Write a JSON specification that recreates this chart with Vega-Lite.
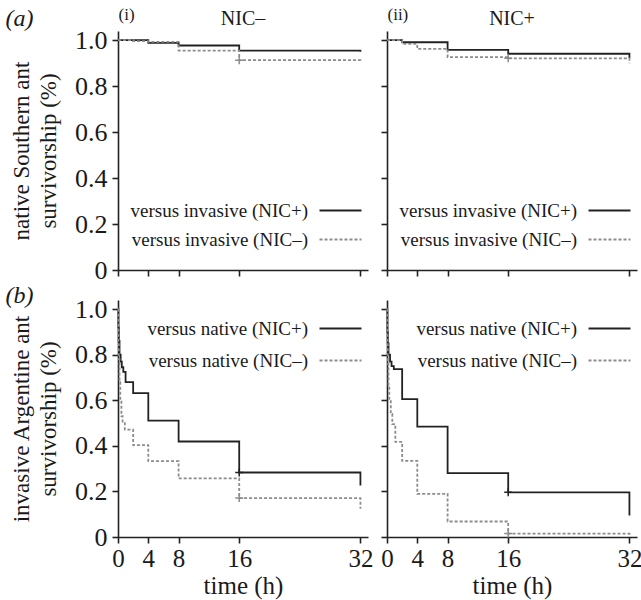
{
  "$schema": "https://vega.github.io/schema/vega-lite/v6.json",
  "padding": {"left": 5, "top": 5, "right": 0, "bottom": 2},
  "config": {
    "font": "Liberation Serif",
    "view": {"stroke": null},
    "axis": {"grid": false, "domainColor": "#222222", "domainWidth": 1.6, "tickColor": "#222222", "tickWidth": 1.6, "tickSize": 6, "labelFont": "Liberation Serif", "labelFontSize": 26, "labelColor": "#1a1a1a", "labelPadding": 5, "labelFlush": false, "labelOverlap": false, "titleFont": "Liberation Serif", "titleFontSize": 23, "titleFontWeight": "normal", "titleColor": "#1a1a1a"},
    "legend": {"labelFont": "Liberation Serif", "labelFontSize": 19, "labelColor": "#1a1a1a", "labelLimit": 0, "symbolType": "M-5.25,0L5.25,0", "symbolSize": 64, "symbolStrokeWidth": 1.8, "labelAlign": "right", "labelOffset": -42, "rowPadding": 9},
    "title": {"font": "Liberation Serif", "fontWeight": "normal", "color": "#1a1a1a"}
  },
  "datasets": {
    "curves": [
      {"panel": "a_i", "series": "versus invasive (NIC+)", "t": 0, "s": 1.0},
      {"panel": "a_i", "series": "versus invasive (NIC+)", "t": 4, "s": 0.988},
      {"panel": "a_i", "series": "versus invasive (NIC+)", "t": 8, "s": 0.977},
      {"panel": "a_i", "series": "versus invasive (NIC+)", "t": 16, "s": 0.955},
      {"panel": "a_i", "series": "versus invasive (NIC+)", "t": 32, "s": 0.95},
      {"panel": "a_i", "series": "versus invasive (NIC–)", "t": 0, "s": 1.0},
      {"panel": "a_i", "series": "versus invasive (NIC–)", "t": 2, "s": 0.996},
      {"panel": "a_i", "series": "versus invasive (NIC–)", "t": 4, "s": 0.993},
      {"panel": "a_i", "series": "versus invasive (NIC–)", "t": 8, "s": 0.955},
      {"panel": "a_i", "series": "versus invasive (NIC–)", "t": 16, "s": 0.913},
      {"panel": "a_i", "series": "versus invasive (NIC–)", "t": 32, "s": 0.905},
      {"panel": "a_ii", "series": "versus invasive (NIC+)", "t": 0, "s": 1.0},
      {"panel": "a_ii", "series": "versus invasive (NIC+)", "t": 2, "s": 0.991},
      {"panel": "a_ii", "series": "versus invasive (NIC+)", "t": 8, "s": 0.958},
      {"panel": "a_ii", "series": "versus invasive (NIC+)", "t": 16, "s": 0.941},
      {"panel": "a_ii", "series": "versus invasive (NIC+)", "t": 32, "s": 0.923},
      {"panel": "a_ii", "series": "versus invasive (NIC–)", "t": 0, "s": 1.0},
      {"panel": "a_ii", "series": "versus invasive (NIC–)", "t": 2, "s": 0.984},
      {"panel": "a_ii", "series": "versus invasive (NIC–)", "t": 4, "s": 0.962},
      {"panel": "a_ii", "series": "versus invasive (NIC–)", "t": 8, "s": 0.926},
      {"panel": "a_ii", "series": "versus invasive (NIC–)", "t": 16, "s": 0.921},
      {"panel": "a_ii", "series": "versus invasive (NIC–)", "t": 32, "s": 0.9},
      {"panel": "b_i", "series": "versus native (NIC+)", "t": 0, "s": 1.0},
      {"panel": "b_i", "series": "versus native (NIC+)", "t": 0.05, "s": 0.92},
      {"panel": "b_i", "series": "versus native (NIC+)", "t": 0.1, "s": 0.86},
      {"panel": "b_i", "series": "versus native (NIC+)", "t": 0.2, "s": 0.8},
      {"panel": "b_i", "series": "versus native (NIC+)", "t": 0.35, "s": 0.77},
      {"panel": "b_i", "series": "versus native (NIC+)", "t": 0.5, "s": 0.745},
      {"panel": "b_i", "series": "versus native (NIC+)", "t": 0.7, "s": 0.725},
      {"panel": "b_i", "series": "versus native (NIC+)", "t": 1, "s": 0.68},
      {"panel": "b_i", "series": "versus native (NIC+)", "t": 2, "s": 0.631},
      {"panel": "b_i", "series": "versus native (NIC+)", "t": 4, "s": 0.511},
      {"panel": "b_i", "series": "versus native (NIC+)", "t": 8, "s": 0.419},
      {"panel": "b_i", "series": "versus native (NIC+)", "t": 16, "s": 0.283},
      {"panel": "b_i", "series": "versus native (NIC+)", "t": 32, "s": 0.226},
      {"panel": "b_i", "series": "versus native (NIC–)", "t": 0, "s": 1.0},
      {"panel": "b_i", "series": "versus native (NIC–)", "t": 0.05, "s": 0.85},
      {"panel": "b_i", "series": "versus native (NIC–)", "t": 0.1, "s": 0.78},
      {"panel": "b_i", "series": "versus native (NIC–)", "t": 0.2, "s": 0.68},
      {"panel": "b_i", "series": "versus native (NIC–)", "t": 0.3, "s": 0.6},
      {"panel": "b_i", "series": "versus native (NIC–)", "t": 0.45, "s": 0.53},
      {"panel": "b_i", "series": "versus native (NIC–)", "t": 0.6, "s": 0.5},
      {"panel": "b_i", "series": "versus native (NIC–)", "t": 0.9, "s": 0.471},
      {"panel": "b_i", "series": "versus native (NIC–)", "t": 2, "s": 0.403},
      {"panel": "b_i", "series": "versus native (NIC–)", "t": 4, "s": 0.333},
      {"panel": "b_i", "series": "versus native (NIC–)", "t": 8, "s": 0.257},
      {"panel": "b_i", "series": "versus native (NIC–)", "t": 16, "s": 0.171},
      {"panel": "b_i", "series": "versus native (NIC–)", "t": 32, "s": 0.124},
      {"panel": "b_ii", "series": "versus native (NIC+)", "t": 0, "s": 1.0},
      {"panel": "b_ii", "series": "versus native (NIC+)", "t": 0.05, "s": 0.9},
      {"panel": "b_ii", "series": "versus native (NIC+)", "t": 0.1, "s": 0.85},
      {"panel": "b_ii", "series": "versus native (NIC+)", "t": 0.2, "s": 0.8},
      {"panel": "b_ii", "series": "versus native (NIC+)", "t": 0.4, "s": 0.77},
      {"panel": "b_ii", "series": "versus native (NIC+)", "t": 0.6, "s": 0.75},
      {"panel": "b_ii", "series": "versus native (NIC+)", "t": 0.9, "s": 0.737},
      {"panel": "b_ii", "series": "versus native (NIC+)", "t": 2, "s": 0.605},
      {"panel": "b_ii", "series": "versus native (NIC+)", "t": 4, "s": 0.484},
      {"panel": "b_ii", "series": "versus native (NIC+)", "t": 8, "s": 0.28},
      {"panel": "b_ii", "series": "versus native (NIC+)", "t": 16, "s": 0.196},
      {"panel": "b_ii", "series": "versus native (NIC+)", "t": 32, "s": 0.094},
      {"panel": "b_ii", "series": "versus native (NIC–)", "t": 0, "s": 1.0},
      {"panel": "b_ii", "series": "versus native (NIC–)", "t": 0.05, "s": 0.85},
      {"panel": "b_ii", "series": "versus native (NIC–)", "t": 0.1, "s": 0.76},
      {"panel": "b_ii", "series": "versus native (NIC–)", "t": 0.2, "s": 0.66},
      {"panel": "b_ii", "series": "versus native (NIC–)", "t": 0.3, "s": 0.6},
      {"panel": "b_ii", "series": "versus native (NIC–)", "t": 0.5, "s": 0.54},
      {"panel": "b_ii", "series": "versus native (NIC–)", "t": 0.7, "s": 0.495},
      {"panel": "b_ii", "series": "versus native (NIC–)", "t": 1.1, "s": 0.417},
      {"panel": "b_ii", "series": "versus native (NIC–)", "t": 2, "s": 0.334},
      {"panel": "b_ii", "series": "versus native (NIC–)", "t": 4, "s": 0.189},
      {"panel": "b_ii", "series": "versus native (NIC–)", "t": 8, "s": 0.068},
      {"panel": "b_ii", "series": "versus native (NIC–)", "t": 16, "s": 0.015},
      {"panel": "b_ii", "series": "versus native (NIC–)", "t": 32, "s": 0.008}
    ],
    "censor": [
      {"panel": "a_i", "series": "versus invasive (NIC–)", "t": 16, "s": 0.913},
      {"panel": "a_ii", "series": "versus invasive (NIC–)", "t": 16, "s": 0.921},
      {"panel": "b_i", "series": "versus native (NIC+)", "t": 16, "s": 0.283},
      {"panel": "b_i", "series": "versus native (NIC–)", "t": 16, "s": 0.171},
      {"panel": "b_ii", "series": "versus native (NIC+)", "t": 16, "s": 0.196},
      {"panel": "b_ii", "series": "versus native (NIC–)", "t": 16, "s": 0.015}
    ]
  },
  "spacing": 1,
  "resolve": {"scale": {"color": "independent", "strokeDash": "independent"}, "legend": {"color": "independent", "strokeDash": "independent"}},
  "vconcat": [
    {
      "title": {"text": "(a)", "anchor": "start", "font": "Liberation Serif", "fontSize": 24, "fontStyle": "italic", "offset": -26, "dx": -5},
      "spacing": 12,
      "resolve": {"scale": {"color": "independent", "strokeDash": "independent"}, "legend": {"color": "independent", "strokeDash": "independent"}},
      "hconcat": [
        {
          "width": 250, "height": 239,
          "title": {"text": "NIC–", "font": "Liberation Serif", "fontSize": 20, "anchor": "middle", "frame": "group", "offset": -24},
          "resolve": {"axis": {"x": "independent"}},
          "layer": [
            {
              "data": {"name": "curves"},
              "transform": [{"filter": "datum.panel === 'a_i'"}],
              "mark": {"type": "line", "interpolate": "step-after", "strokeWidth": 1.8},
              "encoding": {
                "x": {"field": "t", "type": "quantitative", "scale": {"domain": [0, 33], "nice": false, "zero": false}, "axis": {"values": [0, 4, 8, 16, 32], "labels": false, "title": null}},
                "y": {"field": "s", "type": "quantitative", "scale": {"domain": [0, 1.04], "nice": false}, "axis": {"values": [0, 0.2, 0.4, 0.6, 0.8, 1.0], "labelExpr": "datum.value === 0 ? '0' : format(datum.value, '.1f')", "labelFont": "Liberation Serif", "titleFont": "Liberation Serif", "titleFontWeight": "normal", "title": ["native Southern ant", "survivorship (%)"], "titleLineHeight": 27, "titlePadding": 14}},
                "color": {"field": "series", "type": "nominal", "scale": {"domain": ["versus invasive (NIC+)", "versus invasive (NIC–)"], "range": ["#222222", "#8c8c8c"]}, "legend": {"title": null, "orient": "none", "legendX": 213, "legendY": 170}},
                "strokeDash": {"field": "series", "type": "nominal", "scale": {"domain": ["versus invasive (NIC+)", "versus invasive (NIC–)"], "range": [[1, 0], [3, 2]]}, "legend": {"title": null, "orient": "none", "legendX": 213, "legendY": 170}}
              }
            },
            {
              "data": {"name": "censor"},
              "transform": [{"filter": "datum.panel === 'a_i'"}],
              "mark": {"type": "point", "shape": "M-1,0L1,0M0,-1L0,1", "filled": false, "size": 64, "strokeWidth": 1.5, "opacity": 1},
              "encoding": {
                "x": {"field": "t", "type": "quantitative", "axis": {"orient": "top", "title": "(i)", "titleFont": "Liberation Serif", "titleFontWeight": "normal", "titleAnchor": "start", "titleFontSize": 17, "titlePadding": 8, "domain": false, "ticks": false, "labels": false}},
                "y": {"field": "s", "type": "quantitative"},
                "color": {"field": "series", "type": "nominal", "legend": null}
              }
            }
          ]
        },
        {
          "width": 250, "height": 239,
          "title": {"text": "NIC+", "font": "Liberation Serif", "fontSize": 20, "anchor": "middle", "frame": "group", "offset": -24},
          "resolve": {"axis": {"x": "independent"}},
          "layer": [
            {
              "data": {"name": "curves"},
              "transform": [{"filter": "datum.panel === 'a_ii'"}],
              "mark": {"type": "line", "interpolate": "step-after", "strokeWidth": 1.8},
              "encoding": {
                "x": {"field": "t", "type": "quantitative", "scale": {"domain": [0, 33], "nice": false, "zero": false}, "axis": {"values": [0, 4, 8, 16, 32], "labels": false, "title": null}},
                "y": {"field": "s", "type": "quantitative", "scale": {"domain": [0, 1.04], "nice": false}, "axis": {"values": [0, 0.2, 0.4, 0.6, 0.8, 1.0], "labels": false, "title": null}},
                "color": {"field": "series", "type": "nominal", "scale": {"domain": ["versus invasive (NIC+)", "versus invasive (NIC–)"], "range": ["#222222", "#8c8c8c"]}, "legend": {"title": null, "orient": "none", "legendX": 213, "legendY": 170}},
                "strokeDash": {"field": "series", "type": "nominal", "scale": {"domain": ["versus invasive (NIC+)", "versus invasive (NIC–)"], "range": [[1, 0], [3, 2]]}, "legend": {"title": null, "orient": "none", "legendX": 213, "legendY": 170}}
              }
            },
            {
              "data": {"name": "censor"},
              "transform": [{"filter": "datum.panel === 'a_ii'"}],
              "mark": {"type": "point", "shape": "M-1,0L1,0M0,-1L0,1", "filled": false, "size": 64, "strokeWidth": 1.5, "opacity": 1},
              "encoding": {
                "x": {"field": "t", "type": "quantitative", "axis": {"orient": "top", "title": "(ii)", "titleFont": "Liberation Serif", "titleFontWeight": "normal", "titleAnchor": "start", "titleFontSize": 17, "titlePadding": 8, "domain": false, "ticks": false, "labels": false}},
                "y": {"field": "s", "type": "quantitative"},
                "color": {"field": "series", "type": "nominal", "legend": null}
              }
            }
          ]
        }
      ]
    },
    {
      "title": {"text": "(b)", "anchor": "start", "font": "Liberation Serif", "fontSize": 24, "fontStyle": "italic", "offset": -12, "dx": -5},
      "spacing": 7,
      "resolve": {"scale": {"color": "independent", "strokeDash": "independent"}, "legend": {"color": "independent", "strokeDash": "independent"}},
      "hconcat": [
        {
          "width": 250, "height": 237,
          "layer": [
            {
              "data": {"name": "curves"},
              "transform": [{"filter": "datum.panel === 'b_i'"}],
              "mark": {"type": "line", "interpolate": "step-after", "strokeWidth": 1.8},
              "encoding": {
                "x": {"field": "t", "type": "quantitative", "scale": {"domain": [0, 33], "nice": false, "zero": false}, "axis": {"values": [0, 4, 8, 16, 32], "labelFont": "Liberation Serif", "titleFont": "Liberation Serif", "titleFontWeight": "normal", "labelFontSize": 25, "labelPadding": 3, "title": "time (h)", "titleFontSize": 25, "titlePadding": 2}},
                "y": {"field": "s", "type": "quantitative", "scale": {"domain": [0, 1.04], "nice": false}, "axis": {"values": [0, 0.2, 0.4, 0.6, 0.8, 1.0], "labelExpr": "datum.value === 0 ? '0' : format(datum.value, '.1f')", "labelFont": "Liberation Serif", "titleFont": "Liberation Serif", "titleFontWeight": "normal", "title": ["invasive Argentine ant", "survivorship (%)"], "titleLineHeight": 27, "titlePadding": 14}},
                "color": {"field": "series", "type": "nominal", "scale": {"domain": ["versus native (NIC+)", "versus native (NIC–)"], "range": ["#222222", "#8c8c8c"]}, "legend": {"title": null, "orient": "none", "legendX": 213, "legendY": 19, "rowPadding": 12}},
                "strokeDash": {"field": "series", "type": "nominal", "scale": {"domain": ["versus native (NIC+)", "versus native (NIC–)"], "range": [[1, 0], [3, 2]]}, "legend": {"title": null, "orient": "none", "legendX": 213, "legendY": 19, "rowPadding": 12}}
              }
            },
            {
              "data": {"name": "censor"},
              "transform": [{"filter": "datum.panel === 'b_i'"}],
              "mark": {"type": "point", "shape": "M-1,0L1,0M0,-1L0,1", "filled": false, "size": 64, "strokeWidth": 1.5, "opacity": 1},
              "encoding": {
                "x": {"field": "t", "type": "quantitative"},
                "y": {"field": "s", "type": "quantitative"},
                "color": {"field": "series", "type": "nominal", "legend": null}
              }
            }
          ]
        },
        {
          "width": 250, "height": 237,
          "layer": [
            {
              "data": {"name": "curves"},
              "transform": [{"filter": "datum.panel === 'b_ii'"}],
              "mark": {"type": "line", "interpolate": "step-after", "strokeWidth": 1.8},
              "encoding": {
                "x": {"field": "t", "type": "quantitative", "scale": {"domain": [0, 33], "nice": false, "zero": false}, "axis": {"values": [0, 4, 8, 16, 32], "labelFont": "Liberation Serif", "titleFont": "Liberation Serif", "titleFontWeight": "normal", "labelFontSize": 25, "labelPadding": 3, "title": "time (h)", "titleFontSize": 25, "titlePadding": 2}},
                "y": {"field": "s", "type": "quantitative", "scale": {"domain": [0, 1.04], "nice": false}, "axis": {"values": [0, 0.2, 0.4, 0.6, 0.8, 1.0], "labels": false, "title": null}},
                "color": {"field": "series", "type": "nominal", "scale": {"domain": ["versus native (NIC+)", "versus native (NIC–)"], "range": ["#222222", "#8c8c8c"]}, "legend": {"title": null, "orient": "none", "legendX": 213, "legendY": 19, "rowPadding": 12}},
                "strokeDash": {"field": "series", "type": "nominal", "scale": {"domain": ["versus native (NIC+)", "versus native (NIC–)"], "range": [[1, 0], [3, 2]]}, "legend": {"title": null, "orient": "none", "legendX": 213, "legendY": 19, "rowPadding": 12}}
              }
            },
            {
              "data": {"name": "censor"},
              "transform": [{"filter": "datum.panel === 'b_ii'"}],
              "mark": {"type": "point", "shape": "M-1,0L1,0M0,-1L0,1", "filled": false, "size": 64, "strokeWidth": 1.5, "opacity": 1},
              "encoding": {
                "x": {"field": "t", "type": "quantitative"},
                "y": {"field": "s", "type": "quantitative"},
                "color": {"field": "series", "type": "nominal", "legend": null}
              }
            }
          ]
        }
      ]
    }
  ]
}
